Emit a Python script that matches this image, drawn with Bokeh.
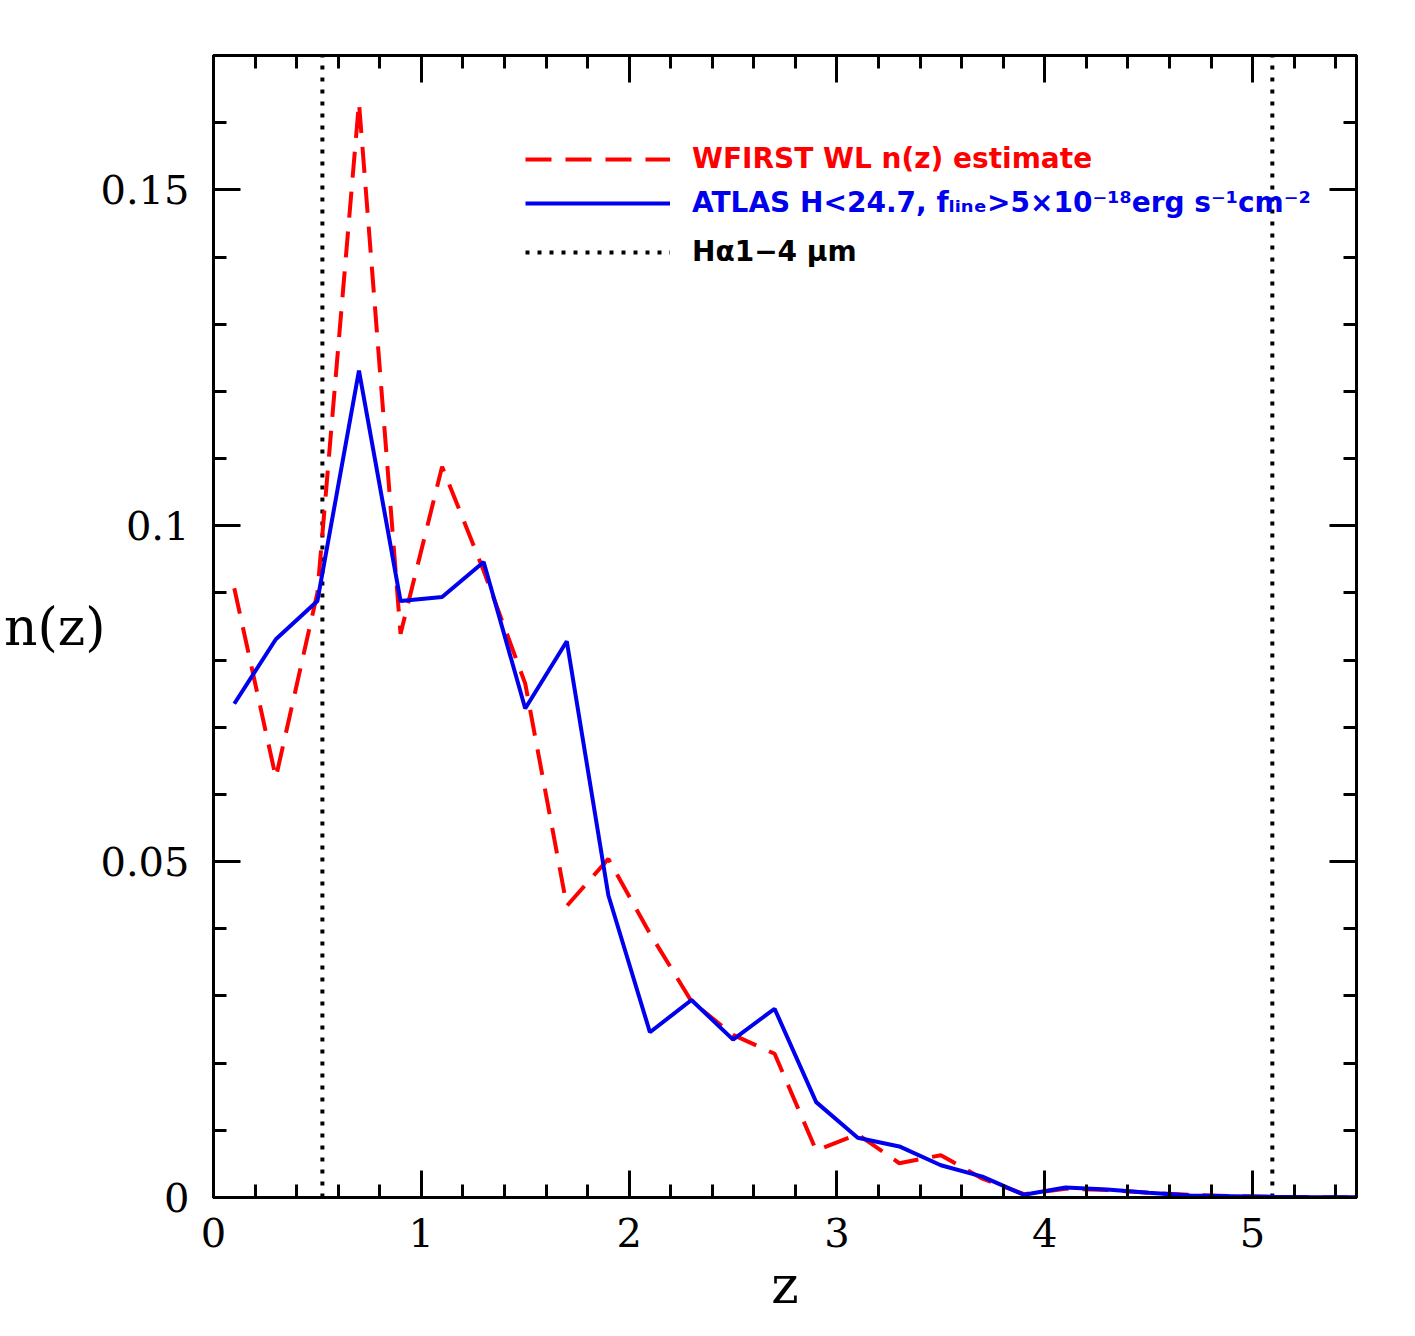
from bokeh.plotting import figure
from bokeh.models import (Range1d, FixedTicker, LinearAxis, Legend, LegendItem,
                          CustomJSTickFormatter)
from bokeh.embed import file_html
from bokeh.resources import INLINE

# ---------------- data ----------------
z_bins = [0.1, 0.3, 0.5, 0.7, 0.9, 1.1, 1.3, 1.5, 1.7, 1.9, 2.1, 2.3, 2.5, 2.7,
          2.9, 3.1, 3.3, 3.5, 3.7, 3.9, 4.1, 4.3, 4.5, 4.7, 4.9, 5.1, 5.3, 5.5]
wfirst_nz = [0.0907, 0.0625, 0.0900, 0.1630, 0.0839, 0.1088, 0.0933, 0.0765,
             0.0434, 0.0504, 0.0393, 0.0292, 0.0242, 0.0214, 0.0070, 0.0094,
             0.0051, 0.0063, 0.0028, 0.0005, 0.0013, 0.0011, 0.0007, 0.0004,
             0.0002, 0.0001, 0.00005, 0.00005]
atlas_nz = [0.0735, 0.0831, 0.0888, 0.1231, 0.0888, 0.0894, 0.0946, 0.0728,
            0.0828, 0.0450, 0.0246, 0.0294, 0.0235, 0.0281, 0.0142, 0.0089,
            0.0076, 0.0048, 0.0031, 0.0004, 0.0015, 0.0012, 0.0007, 0.0003,
            0.0002, 0.0001, 0.00005, 0.00005]
halpha_z = [0.524, 5.095]   # H-alpha redshifted into 1 and 4 micron

x_lim = (0, 5.5)
y_lim = (0, 0.17)
x_major = [0, 1, 2, 3, 4, 5]
x_minor = [round(0.2 * i, 1) for i in range(28)]
y_major = [0, 0.05, 0.1, 0.15]
y_minor = [round(0.01 * i, 2) for i in range(18)]

label_wfirst = "WFIRST WL n(z) estimate"
label_atlas = "ATLAS H<24.7, f\u2097\u1d62\u2099\u2091>5\u00d710\u207b\u00b9\u2078erg s\u207b\u00b9cm\u207b\u00b2"
label_halpha = "H\u03b11\u22124 \u03bcm"
x_title = "z"
y_title = "n(z)"

# ---------------- figure ----------------
p = figure(frame_width=1143, frame_height=1142, output_backend="svg",
           toolbar_location=None, x_range=Range1d(*x_lim), y_range=Range1d(*y_lim),
           min_border_left=213, min_border_top=55, min_border_right=50,
           min_border_bottom=120, x_axis_location=None, y_axis_location=None)
p.background_fill_color = "white"
p.border_fill_color = "white"
p.grid.visible = False
p.outline_line_color = "black"
p.outline_line_width = 3

serif = "DejaVu Serif"

def style_axis(ax, ticks, minor, show_labels):
    ax.ticker = FixedTicker(ticks=ticks, minor_ticks=minor)
    ax.axis_line_color = "black"
    ax.axis_line_width = 3
    ax.major_tick_in = 27
    ax.major_tick_out = 0
    ax.minor_tick_in = 13
    ax.minor_tick_out = 0
    ax.major_tick_line_width = 3
    ax.minor_tick_line_width = 3
    ax.major_tick_line_color = "black"
    ax.minor_tick_line_color = "black"
    ax.major_label_text_font = serif
    ax.major_label_text_font_size = "40px"
    ax.major_label_text_color = "black"
    if not show_labels:
        ax.formatter = CustomJSTickFormatter(code="return '';")
        ax.major_label_standoff = 0

fmt = CustomJSTickFormatter(code="""
    var s = tick.toFixed(2);
    s = s.replace(/0+$/, '').replace(/\\.$/, '');
    return s;
""")

bottom = LinearAxis()
style_axis(bottom, x_major, x_minor, True)
bottom.major_label_standoff = 20
bottom.axis_label = x_title
bottom.axis_label_text_font = serif
bottom.axis_label_text_font_size = "52px"
bottom.axis_label_text_font_style = "normal"
bottom.axis_label_text_color = "black"
bottom.axis_label_standoff = 5

top = LinearAxis()
style_axis(top, x_major, x_minor, False)

left = LinearAxis(formatter=fmt)
style_axis(left, y_major, y_minor, True)
left.major_label_standoff = 24
left.axis_label = y_title
left.axis_label_text_font = serif
left.axis_label_text_font_size = "52px"
left.axis_label_text_font_style = "normal"
left.axis_label_text_color = "black"
left.axis_label_standoff = -8
if "axis_label_orientation" in left.properties():
    left.axis_label_orientation = "horizontal"

right = LinearAxis()
style_axis(right, y_major, y_minor, False)

p.add_layout(bottom, "below")
p.add_layout(top, "above")
p.add_layout(left, "left")
p.add_layout(right, "right")

# vertical H-alpha lines spanning the full y range
n_h = len(halpha_z)
r_dot = p.segment(x0=halpha_z, y0=[y_lim[0]] * n_h, x1=halpha_z, y1=[y_lim[1]] * n_h,
                  line_color="black", line_width=4, line_dash="4 8")

r_red = p.line(z_bins, wfirst_nz, line_color="#ff0000", line_width=4,
               line_dash="26 14")
r_blue = p.line(z_bins, atlas_nz, line_color="#0000ee", line_width=4)

# legends (one per entry so each text has its own colour)
frame_h = 1142
def add_legend(label, renderer, color, center_y_from_top):
    leg = Legend(items=[LegendItem(label=label, renderers=[renderer], index=0)],
                 location=(312, frame_h - (center_y_from_top - 55) - 15),
                 glyph_width=145, glyph_height=30, label_height=30,
                 label_standoff=22, padding=0, margin=0, spacing=0,
                 border_line_alpha=0, background_fill_alpha=0,
                 label_text_font="DejaVu Sans", label_text_font_style="bold",
                 label_text_font_size="28px", label_text_color=color)
    p.add_layout(leg)

add_legend(label_wfirst, r_red, "#ff0000", 160)
add_legend(label_atlas, r_blue, "#0000ee", 204)
add_legend(label_halpha, r_dot, "black", 253)

open("out.html", "w").write(file_html(p, INLINE))
